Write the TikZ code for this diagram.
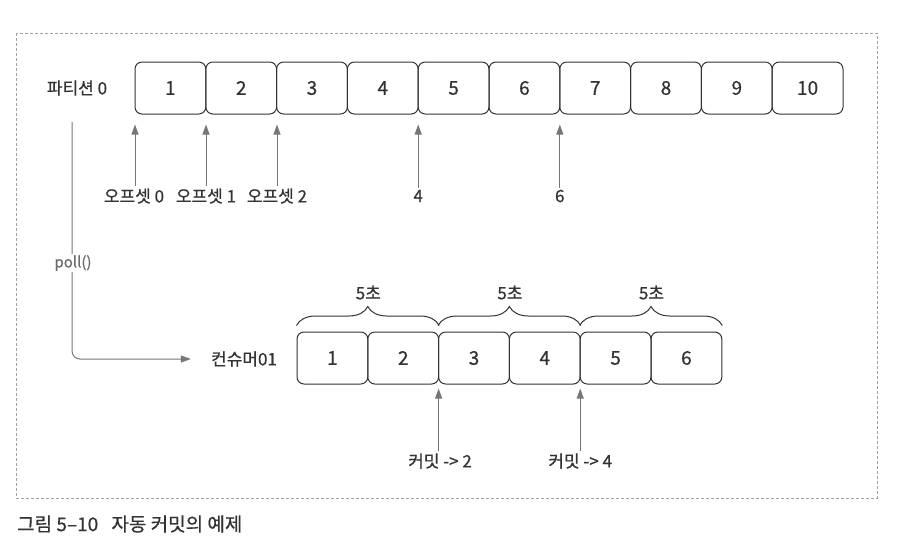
\documentclass[tikz,border=0pt]{standalone}
\usepackage{fontspec}
\setmainfont{Noto Sans CJK KR}[FakeBold=0.6]
\usetikzlibrary{arrows.meta,decorations.pathreplacing,calc}
\definecolor{ink}{HTML}{333333}
\definecolor{arrowgray}{HTML}{777777}
\definecolor{framegray}{HTML}{A0A0A0}
\tikzset{
  cell/.style={draw=ink, line width=1pt, rounded corners=7pt, minimum width=70.8pt, minimum height=52pt, inner sep=0pt, font=\fontsize{19}{22}\selectfont, text=ink},
  lbl/.style={font=\fontsize{17}{20}\selectfont, text=ink, inner sep=2pt},
  arr/.style={draw=arrowgray, line width=1pt, -{Triangle[length=10pt,width=7pt]}},
  bracestyle/.style={draw=ink, line width=1pt, decorate, decoration={brace, amplitude=19pt, raise=6pt}},
}
\begin{document}
\begin{tikzpicture}[x=1pt,y=-1pt]
\useasboundingbox (0,0) rectangle (897,552);
% frame
\draw[framegray, line width=0.6pt, densely dashed] (16,33) rectangle (877,498);
% partition row
\node[lbl] (part) at (77,88) {파티션 0};
\foreach \i in {1,...,10} {
  \node[cell] (p\i) at ({135+(\i-0.5)*70.8},88) {\i};
}
% offsets
\node[lbl] (o0) at (134,196) {오프셋 0};
\node[lbl] (o1) at (206,196) {오프셋 1};
\node[lbl] (o2) at (277,196) {오프셋 2};
\node[lbl] (o4) at (418.2,196) {4};
\node[lbl] (o6) at (559.8,196) {6};
\draw[arr, shorten >=10pt] ([xshift=1pt]o0.north) -- ([xshift=1pt]o0.north |- p1.south);
\draw[arr, shorten >=10pt] (o1.north) -- (o1.north |- p1.south);
\draw[arr, shorten >=10pt] (o2.north) -- (o2.north |- p1.south);
\draw[arr, shorten >=10pt] (o4.north) -- (o4.north |- p1.south);
\draw[arr, shorten >=10pt] (o6.north) -- (o6.north |- p1.south);
% consumer row
\node[lbl] (cons) at (244,359) {컨슈머01};
\foreach \i in {1,...,6} {
  \node[cell] (c\i) at ({297+(\i-0.5)*70.8},358) {\i};
}
% poll line
\coordinate (pollstart) at (72,122);
\draw[arr, rounded corners=8pt] (pollstart) |- ([xshift=-18pt]cons.west);
\node[font=\fontsize{15}{17}\selectfont, text=arrowgray!90!black, fill=white, inner sep=1pt] (poll) at (73,263) {poll()};
% braces
\draw[bracestyle] (c1.north west) -- (c2.north east);
\draw[bracestyle] (c3.north west) -- (c4.north east);
\draw[bracestyle] (c5.north west) -- (c6.north east);
\node[lbl] (s1) at ($(c1.north east)+(0,-39)$) {5초};
\node[lbl] (s2) at ($(c3.north east)+(0,-39)$) {5초};
\node[lbl] (s3) at ($(c5.north east)+(0,-39)$) {5초};
% commits
\node[lbl] (k2) at (440,461) {커밋 -> 2};
\node[lbl] (k4) at (580.2,461) {커밋 -> 4};
\draw[arr, shorten >=4pt] ([xshift=-1.4pt]k2.north) -- ([xshift=-1.4pt]k2.north |- c3.south);
\draw[arr, shorten >=4pt] (k4.north) -- (k4.north |- c5.south);
% caption
\node[anchor=west, font=\fontsize{19}{22}\selectfont, text=ink, inner sep=0pt] (cap) at (17,524) {그림 5–10\hspace{0.7em}자동 커밋의 예제};
\end{tikzpicture}
\end{document}
